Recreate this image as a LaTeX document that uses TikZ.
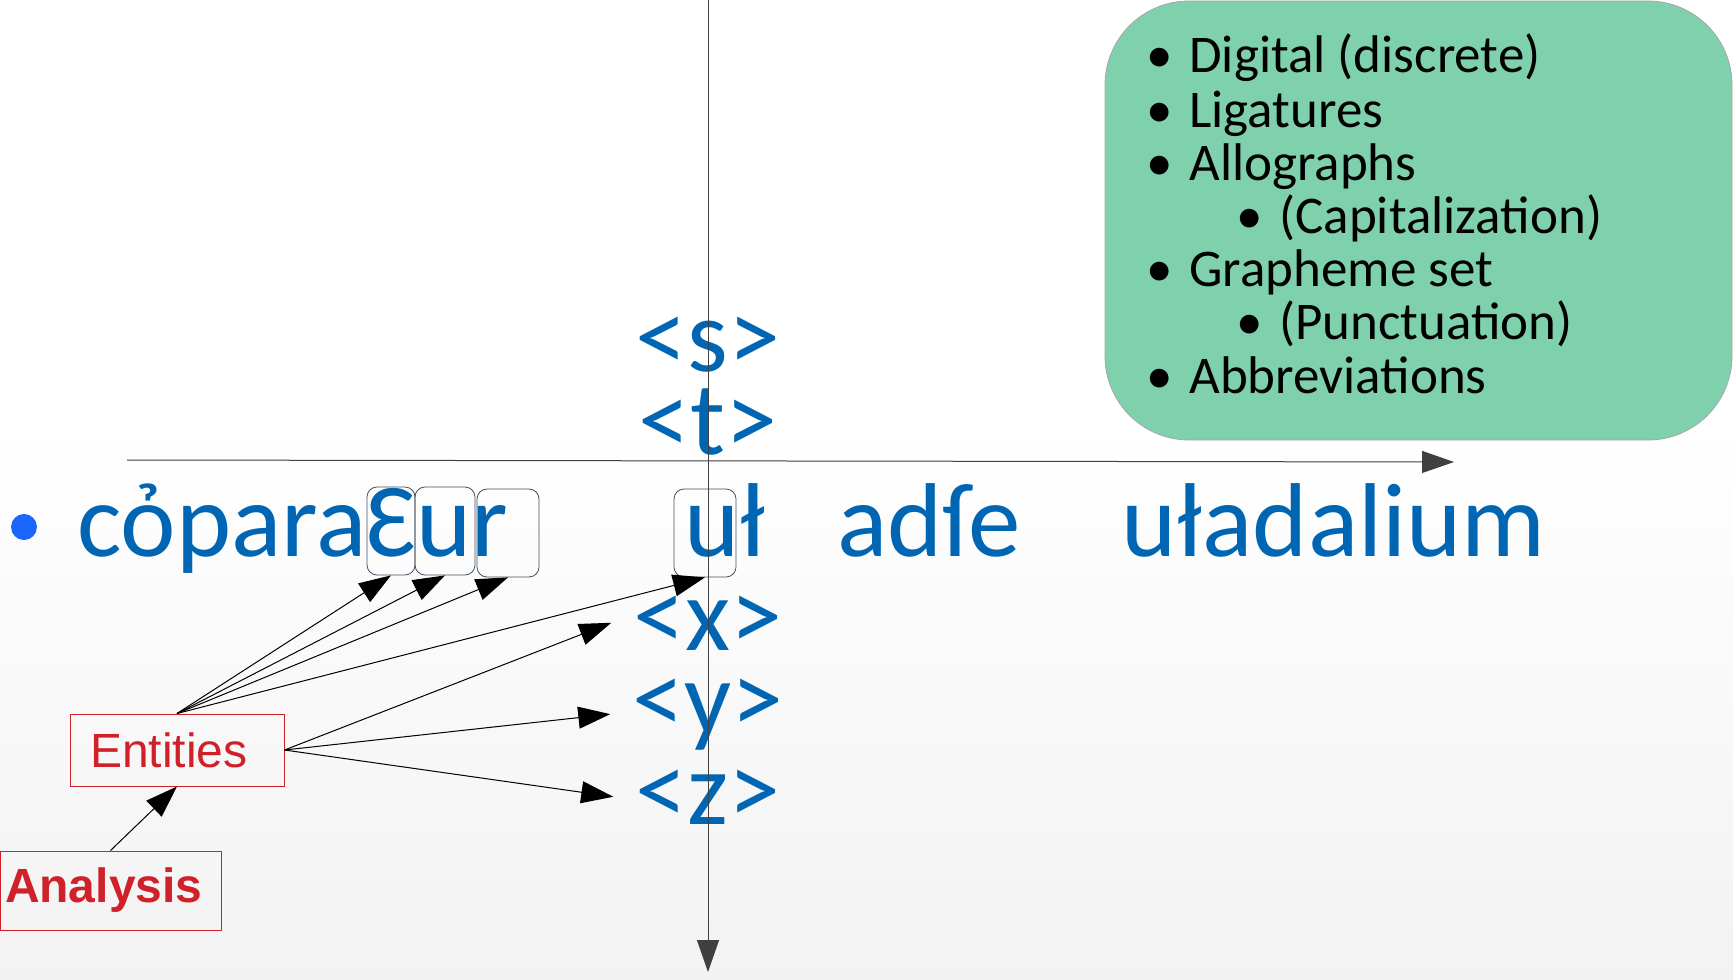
\documentclass[tikz,border=0pt]{standalone}
\usepackage{fontspec}
\setmainfont{Carlito}
\newfontfamily\arialfont{Liberation Sans}
\usetikzlibrary{arrows.meta}
\definecolor{inkblue}{RGB}{0,102,179}
\definecolor{dotblue}{RGB}{26,102,255}
\definecolor{mint}{RGB}{127,209,174}
\definecolor{tagred}{RGB}{208,32,42}
\definecolor{boxline}{RGB}{70,80,100}
\begin{document}
\begin{tikzpicture}[x=0.5pt,y=-0.5pt,
  tip/.style={-{Triangle[length=16pt,width=11pt]}, line width=0.5pt},
  word/.style={anchor=base west, inner sep=0pt, text=inkblue, font=\fontsize{52.5}{52.5}\selectfont},
  tag/.style={anchor=base, inner xsep=11pt, inner ysep=0pt, text=inkblue, font=\fontsize{52}{52}\selectfont},
  gbox/.style={draw=boxline, line width=0.4pt, rounded corners=5pt, minimum height=44pt, inner sep=0pt},
  redbox/.style={draw=tagred, line width=0.5pt, text=tagred, align=left, font=\arialfont\fontsize{24}{24}\selectfont},
  item/.style={anchor=base west, inner sep=0pt, font=\fontsize{26.5}{26.5}\selectfont}]
\useasboundingbox (0,0) rectangle (1733,979);
\shade[top color=white, bottom color=black!5] (0,420) rectangle (1733,979);

\node[draw=black!35, fill=mint, rounded corners=42pt, minimum width=313.5pt, minimum height=219.5pt] (feat) at (1418.5,220.5) {};
\foreach \dx/\yy/\txt [count=\i] in {0/73/Digital (discrete), 0/127/Ligatures, 0/180/Allographs, 90/233/(Capitalization), 0/286/Grapheme set, 90/339/(Punctuation), 0/393/Abbreviations}
  \node[item] (item\i) at (1146+\dx,\yy) {\makebox[21.5pt][l]{•}\txt};

\node[circle, fill=dotblue, inner sep=0pt, minimum size=13pt] (dot) at (24,527) {};
\node[word] (w1) at (77,556) {cỏparaƐur};
\node[word] (w2) at (684,556) {uł};
\node[word] (w3) at (837,556) {adſe};
\node[word] (w4) at (1121,556) {uładalium};

\node[gbox, minimum width=24pt] (bE) at (391,531) {};
\node[gbox, minimum width=30pt] (bu) at (445,531) {};
\node[gbox, minimum width=31pt] (br) at (508,533) {};
\node[gbox, minimum width=31pt] (bv) at (705,533) {};

\node[tag] (ls) at (708,371) {<s>};
\node[tag] (lt) at (708,454) {<t>};
\node[tag] (lx) at (708,650) {<x>};
\node[tag] (ly) at (708,733) {<y>};
\node[tag] (lz) at (708,824) {<z>};

\node[redbox, minimum width=107pt, minimum height=36pt, inner xsep=10pt, text width=87pt] (ent) at (177,750) {Entities};
\node[redbox, minimum width=110.5pt, minimum height=39.5pt, inner xsep=2.5pt, text width=105.5pt, font=\arialfont\bfseries\fontsize{24}{24}\selectfont] (ana) at (110.5,890.5) {Analysis};

\coordinate (vtop) at (708,0);
\coordinate (vbot) at (708,972);
\coordinate (hstart) at (127,460);
\coordinate (hend) at (1454,462);
\draw[tip, draw=black!75] (vtop) -- (vbot);
\draw[tip, draw=black!75] (hstart) -- (hend);

\foreach \t in {bE,bu,br,bv} \draw[tip] (ent.north) -- (\t.south);
\foreach \t in {lx,ly,lz} \draw[tip] (ent.east) -- (\t.west);
\draw[tip] (ana.north) -- (ent.south);
\end{tikzpicture}
\end{document}
